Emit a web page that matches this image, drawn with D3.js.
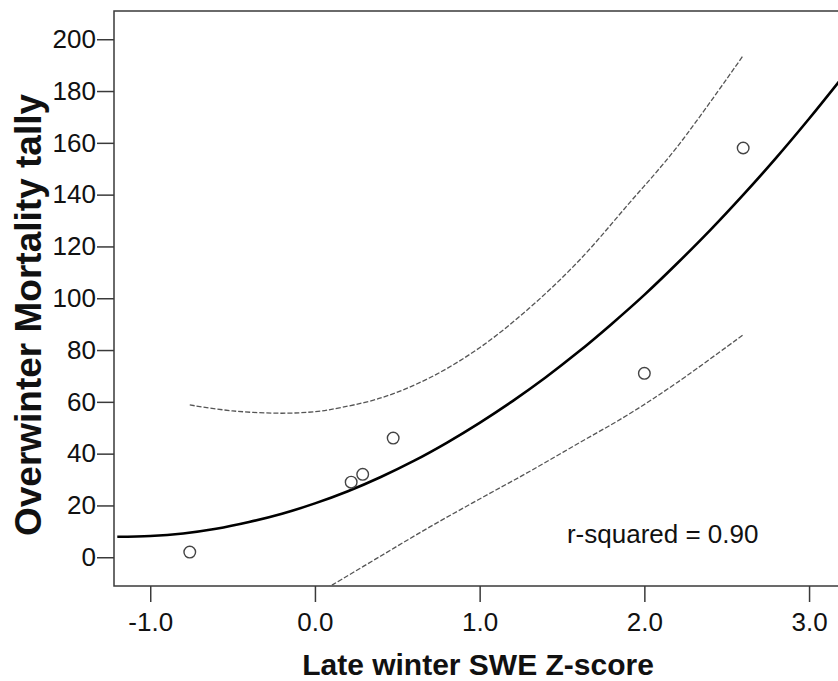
<!DOCTYPE html>
<html>
<head>
<meta charset="utf-8">
<script src="https://cdn.jsdelivr.net/npm/d3@7"></script>
<style>
  html, body { margin: 0; padding: 0; background: #fff; }
  svg { display: block; font-family: "Liberation Sans", Arial, sans-serif; }
</style>
</head>
<body>
<svg id="chart" width="838" height="681"></svg>
<script>
// ---- Data ----
const pointX = [-0.76, 0.22, 0.29, 0.475, 2.0, 2.6];
const pointY = [2, 29, 32, 46, 71, 158];

// quadratic fit line, sampled
const fitX = [-1.2, -1.0, -0.8, -0.6, -0.4, -0.2, 0.0, 0.2, 0.4, 0.6, 0.8, 1.0, 1.2, 1.4, 1.6, 1.8, 2.0, 2.2, 2.4, 2.6, 2.8, 3.0, 3.2];
const fitY = [7.9, 8.2, 9.2, 11.0, 13.6, 16.8, 20.8, 25.5, 31.0, 37.2, 44.2, 51.9, 60.3, 69.4, 79.3, 90.0, 101.3, 113.5, 126.3, 139.9, 154.2, 169.3, 185.1];

// confidence band, sampled
const bandX = [-0.76, -0.5, -0.2, 0.0, 0.1, 0.4, 0.7, 1.0, 1.3, 1.6, 1.9, 2.2, 2.6];
const bandUpper = [58.8, 56.5, 55.6, 56.2, 57.1, 61.5, 69.4, 80.9, 96.1, 114.3, 136.1, 158.5, 193.7];
const bandLower = [-39.8, -32.1, -22.0, -14.6, -10.9, 0.5, 11.8, 22.5, 33.0, 44.0, 55.0, 67.5, 85.9];

const xTicks = [-1.0, 0.0, 1.0, 2.0, 3.0];
const yTicks = [0, 20, 40, 60, 80, 100, 120, 140, 160, 180, 200];

const xTitle = "Late winter SWE Z-score";
const yTitle = "Overwinter Mortality tally";
const annotation = "r-squared = 0.90";

// ---- Layout ----
const svg = d3.select("#chart");
const plot = { left: 114, top: 11, right: 842, bottom: 586 };

const x = d3.scaleLinear().domain([-1.22, 3.2]).range([plot.left, plot.right]);
const y = d3.scaleLinear().domain([-11.1, 210.9]).range([plot.bottom, plot.top]);

svg.append("defs").append("clipPath").attr("id", "clip")
  .append("rect")
  .attr("x", plot.left).attr("y", plot.top)
  .attr("width", plot.right - plot.left).attr("height", plot.bottom - plot.top);

const frameColor = "#3a3a3a";
const fontFam = "'Liberation Sans', Arial, sans-serif";

// frame (top, left, bottom; right edge lies outside the image)
svg.append("rect")
  .attr("x", plot.left).attr("y", plot.top)
  .attr("width", plot.right - plot.left).attr("height", plot.bottom - plot.top)
  .attr("fill", "none").attr("stroke", frameColor).attr("stroke-width", 1.5);

// axes
const fmtX = d => d3.format(".1f")(d).replace("\u2212", "-");
const xAxis = d3.axisBottom(x).tickValues(xTicks).tickFormat(fmtX)
  .tickSize(16).tickPadding(11).tickSizeOuter(0);
const gx = svg.append("g").attr("transform", `translate(0,${plot.bottom})`).call(xAxis);
gx.select(".domain").remove();
gx.selectAll(".tick line").attr("stroke", frameColor).attr("stroke-width", 1.5);
gx.selectAll(".tick text").attr("fill", "#111").attr("font-size", 26)
  .attr("font-family", fontFam);

const yAxis = d3.axisLeft(y).tickValues(yTicks).tickFormat(d3.format("d"))
  .tickSize(17).tickPadding(1).tickSizeOuter(0);
const gy = svg.append("g").attr("transform", `translate(${plot.left},0)`).call(yAxis);
gy.select(".domain").remove();
gy.selectAll(".tick line").attr("stroke", frameColor).attr("stroke-width", 1.5);
gy.selectAll(".tick text").attr("fill", "#111").attr("font-size", 26)
  .attr("font-family", fontFam);

// lines
const content = svg.append("g").attr("clip-path", "url(#clip)");
const lineGen = d3.line().x(d => x(d[0])).y(d => y(d[1])).curve(d3.curveCatmullRom.alpha(0.5));

content.append("path")
  .datum(bandX.map((v, i) => [v, bandUpper[i]]))
  .attr("d", lineGen).attr("fill", "none")
  .attr("stroke", "#555").attr("stroke-width", 1.3).attr("stroke-dasharray", "5,2");

content.append("path")
  .datum(bandX.map((v, i) => [v, bandLower[i]]))
  .attr("d", lineGen).attr("fill", "none")
  .attr("stroke", "#555").attr("stroke-width", 1.3).attr("stroke-dasharray", "5,2");

content.append("path")
  .datum(fitX.map((v, i) => [v, fitY[i]]))
  .attr("d", lineGen).attr("fill", "none")
  .attr("stroke", "#000").attr("stroke-width", 2.6);

// points
content.selectAll("circle.pt")
  .data(pointX.map((v, i) => [v, pointY[i]]))
  .enter().append("circle").attr("class", "pt")
  .attr("cx", d => x(d[0])).attr("cy", d => y(d[1])).attr("r", 5.8)
  .attr("fill", "none").attr("stroke", "#444").attr("stroke-width", 1.4);

// annotation
svg.append("text")
  .attr("x", x(1.53)).attr("y", 543)
  .attr("font-size", 26).attr("fill", "#111")
  .text(annotation);

// axis titles
svg.append("text")
  .attr("x", (plot.left + plot.right) / 2).attr("y", 675)
  .attr("text-anchor", "middle").attr("font-size", 30).attr("font-weight", "bold")
  .attr("fill", "#111")
  .text(xTitle);

svg.append("text")
  .attr("transform", "translate(41,315) rotate(-90)")
  .attr("text-anchor", "middle").attr("font-size", 37).attr("font-weight", "bold")
  .attr("fill", "#111")
  .text(yTitle);
</script>
</body>
</html>
